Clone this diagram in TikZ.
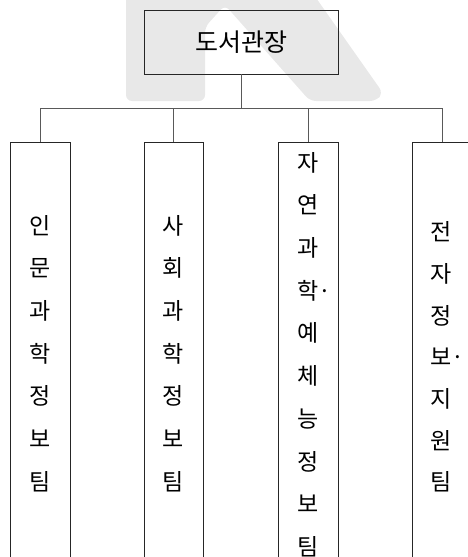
\documentclass[tikz,border=0pt]{standalone}
\usepackage{fontspec}
\newfontfamily\krfont{Noto Sans CJK KR}
\begin{document}
\begin{tikzpicture}[x=1pt,y=-1pt,
  boxst/.style={draw=black!85,line width=0.8pt,fill=white,rectangle,inner sep=0pt},
  conn/.style={draw=black!65,line width=0.8pt},
  coltext/.style={align=center,font=\krfont\fontsize{23}{42.7}\selectfont,inner sep=0pt},
]
\useasboundingbox (0,0) rectangle (468,557);
% watermark
\fill[black!9,rounded corners=6pt] (126,-5) -- (126,101) -- (205,101) -- (205,27) -- (225,5) -- (310,101) -- (376,101) -- (383,93) -- (314,-5) -- cycle;
% top box
\node[boxst,minimum width=194pt,minimum height=64pt,fill=none,
      font=\krfont\fontsize{25}{30}\selectfont] (top) at (241,42) {도서관장};
% branch boxes (bottom edges lie below the page)
\node[boxst,minimum width=60pt,minimum height=500pt,anchor=north] (b1) at (40,142) {};
\node[boxst,minimum width=59pt,minimum height=500pt,anchor=north] (b2) at (173.5,142) {};
\node[boxst,minimum width=60pt,minimum height=500pt,anchor=north] (b3) at (308,142) {};
\node[boxst,minimum width=61pt,minimum height=500pt,anchor=north] (b4) at (442.5,142) {};
% texts
\node[coltext] (t1) at (40,353.5) {인\\문\\과\\학\\정\\보\\팀};
\node[coltext] (t2) at (173.5,353.5) {사\\회\\과\\학\\정\\보\\팀};
\node[coltext] (t3) at (308,354.5) {자\\연\\과\\학\rlap{·}\\예\\체\\능\\정\\보\\팀};
\node[coltext,font=\krfont\fontsize{23}{41.7}\selectfont] (t4) at (441,357) {전\\자\\정\\보\rlap{·}\\지\\원\\팀};
% connectors
\draw[conn] (top.south) -- ++(0,34) coordinate (hub);
\draw[conn] (b1.north) -- (b1.north |- hub) -- (b4.north |- hub) -- (b4.north);
\draw[conn] (b2.north) -- (b2.north |- hub);
\draw[conn] (b3.north) -- (b3.north |- hub);
\end{tikzpicture}
\end{document}
